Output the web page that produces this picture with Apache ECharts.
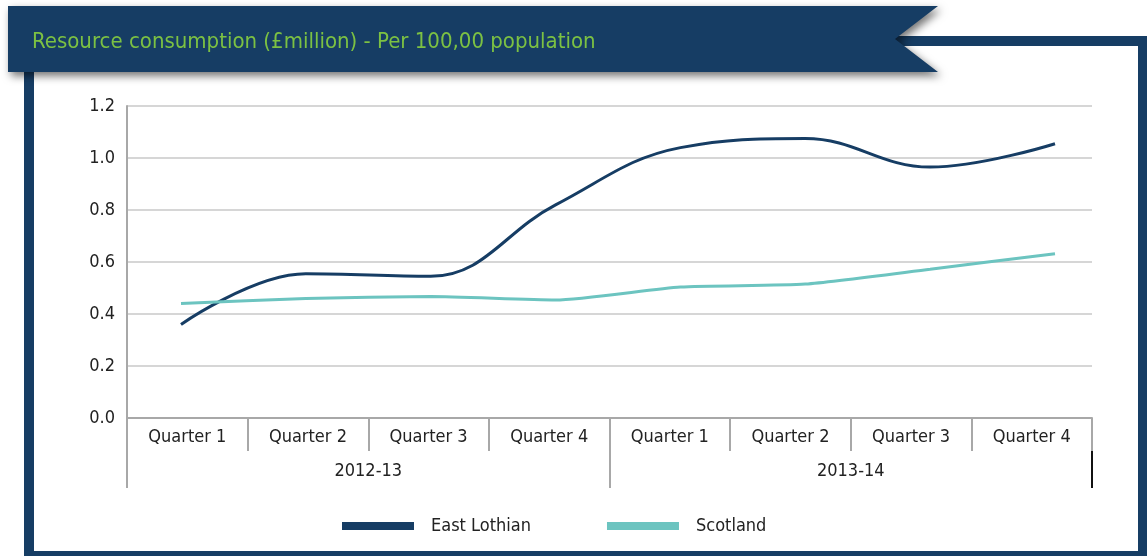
<!DOCTYPE html>
<html>
<head>
<meta charset="utf-8">
<script src="https://cdn.jsdelivr.net/npm/echarts@6/dist/echarts.min.js"></script>
<style>
  html, body { margin: 0; padding: 0; background: #fff; }
  #chart { width: 1147px; height: 556px; }
</style>
</head>
<body>
<div id="chart"></div>
<script>
// data
var quarters = ['Quarter 1', 'Quarter 2', 'Quarter 3', 'Quarter 4', 'Quarter 1', 'Quarter 2', 'Quarter 3', 'Quarter 4'];
var years = ['2012-13', '2013-14'];
var eastLothian = [0.36, 0.555, 0.545, 0.82, 1.04, 1.075, 0.965, 1.055];
var scotland = [0.44, 0.46, 0.467, 0.454, 0.504, 0.515, 0.572, 0.632];
var yTicks = { min: 0, max: 1.2, interval: 0.2 };

var navy = '#163d64';
var teal = '#6cc4c0';
var font = '"Liberation Sans Narrow", "DejaVu Sans Condensed", Roboto, sans-serif';

var myChart = echarts.init(document.getElementById('chart'));
var option = {
    animation: false,
    title: {
        text: 'Resource consumption (£million) - Per 100,00 population',
        left: 27,
        top: 26,
        textStyle: {
            color: '#7cc143',
            fontFamily: font,
            fontSize: 22,
            fontWeight: 'normal'
        }
    },
    legend: {
        left: 337,
        top: 512,
        icon: 'rect',
        itemWidth: 72,
        itemHeight: 8,
        itemGap: 76,
        textStyle: {
            color: '#222',
            fontFamily: font,
            fontSize: 18,
            padding: [0, 0, 0, 12]
        },
        data: ['East Lothian', 'Scotland']
    },
    grid: [
        { left: 127, right: 55, top: 106, bottom: 138 },
        // the lines sit slightly wider than the category bands in the original
        { left: 181, right: 92, top: 106, bottom: 138 }
    ],
    xAxis: [{
        gridIndex: 0,
        type: 'category',
        data: quarters,
        axisLine: { lineStyle: { color: '#a8a8a8', width: 2 } },
        axisTick: { show: true, interval: 0, length: 33, lineStyle: { color: '#a8a8a8', width: 2 } },
        axisLabel: { interval: 0, margin: 10, color: '#222', fontFamily: font, fontSize: 18 }
    }, {
        gridIndex: 0,
        type: 'category',
        position: 'bottom',
        data: years,
        axisLine: { show: false },
        axisTick: { show: true, interval: 0, length: 70, lineStyle: { color: '#a8a8a8', width: 2 } },
        axisLabel: { interval: 0, margin: 44, color: '#222', fontFamily: font, fontSize: 18 }
    }, {
        gridIndex: 1,
        type: 'category',
        show: false,
        boundaryGap: false,
        data: quarters
    }],
    yAxis: [{
        gridIndex: 0,
        type: 'value',
        min: yTicks.min,
        max: yTicks.max,
        interval: yTicks.interval,
        axisLine: { show: true, lineStyle: { color: '#a8a8a8', width: 2 } },
        axisTick: { show: false },
        splitLine: { lineStyle: { color: '#c9c9c9', width: 1.5 } },
        axisLabel: {
            margin: 12,
            color: '#222',
            fontFamily: font,
            fontSize: 18,
            formatter: function (v) { return v.toFixed(1); }
        }
    }, {
        gridIndex: 1,
        type: 'value',
        show: false,
        min: yTicks.min,
        max: yTicks.max,
        interval: yTicks.interval,
        splitLine: { show: false }
    }],
    series: [{
        name: 'East Lothian',
        type: 'line',
        xAxisIndex: 2,
        yAxisIndex: 1,
        smooth: 0.4,
        showSymbol: false,
        data: eastLothian,
        lineStyle: { color: navy, width: 3 },
        itemStyle: { color: navy }
    }, {
        name: 'Scotland',
        type: 'line',
        xAxisIndex: 2,
        yAxisIndex: 1,
        smooth: 0.2,
        showSymbol: false,
        data: scotland,
        lineStyle: { color: teal, width: 3 },
        itemStyle: { color: teal }
    }],
    graphic: [
        // banner with notched end
        {
            type: 'polygon',
            z: -1,
            shape: { points: [[8, 6], [938, 6], [895, 39], [938, 72], [8, 72]] },
            style: {
                fill: navy,
                shadowBlur: 8,
                shadowOffsetX: 3,
                shadowOffsetY: 4,
                shadowColor: 'rgba(0,0,0,0.55)'
            }
        },
        // frame
        { type: 'rect', z: -2, shape: { x: 895, y: 36, width: 252, height: 10 }, style: { fill: navy } },
        { type: 'rect', z: -2, shape: { x: 1138, y: 36, width: 9, height: 520 }, style: { fill: navy } },
        { type: 'rect', z: -2, shape: { x: 24, y: 70, width: 10, height: 486 }, style: { fill: navy } },
        { type: 'rect', z: -2, shape: { x: 24, y: 551, width: 1123, height: 5 }, style: { fill: navy } },
        // dark end mark on the category axis
        { type: 'rect', z: 100, shape: { x: 1091, y: 451, width: 2, height: 37 }, style: { fill: '#111' } }
    ]
};
myChart.setOption(option);
</script>
</body>
</html>
